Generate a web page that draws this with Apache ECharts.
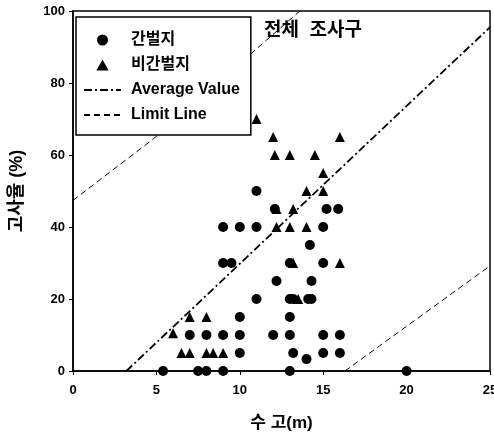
<!DOCTYPE html>
<html><head><meta charset="utf-8">
<script src="https://cdn.jsdelivr.net/npm/echarts@6/dist/echarts.min.js"></script>
<style>html,body{margin:0;padding:0;background:#fff}#c{width:494px;height:441px}</style>
</head><body><div id="c"></div>
<script>
const FONT = "'Liberation Sans','Noto Sans CJK KR',sans-serif";

// 간벌지 (circles)
const thinnedX = [5.4, 7.5, 8, 9, 13, 20, 14, 10, 13.2, 15, 16, 7, 8, 9, 10, 12, 13, 15, 16, 10, 13, 11, 13, 13.2, 14.1, 14.3, 12.2, 14.3, 9, 9.5, 13, 15, 14.2, 9, 10, 11, 15, 12.1, 15.2, 15.9, 11];
const thinnedY = [0, 0, 0, 0, 0, 0, 3.3, 5, 5, 5, 5, 10, 10, 10, 10, 10, 10, 10, 10, 15, 15, 20, 20, 20, 20, 20, 25, 25, 30, 30, 30, 30, 35, 40, 40, 40, 40, 45, 45, 45, 50];

// 비간벌지 (triangles)
const unthinnedX = [6.5, 7, 8, 8.4, 9, 6, 7, 8, 13.5, 13.2, 16, 12.2, 13, 14, 12.2, 13.2, 14, 15, 15, 12.1, 13, 14.5, 12, 16, 11];
const unthinnedY = [5, 5, 5, 5, 5, 10.5, 15, 15, 20, 30, 30, 40, 40, 40, 45, 45, 50, 50, 55, 60, 60, 60, 65, 65, 70];

// Lines
const averageX = [3.2, 25];
const averageY = [0, 95.5];
const upperLimitX = [0, 4.8, 13.6];
const upperLimitY = [47.4, 64.4, 100];
const lowerLimitX = [16.3, 25];
const lowerLimitY = [0, 29.2];

const xTicks = [0, 5, 10, 15, 20, 25];
const yTicks = [0, 20, 40, 60, 80, 100];

const pairs = (xs, ys) => xs.map((x, i) => [x, ys[i]]);
const TRI = 'path://M5,0 L10,9 L0,9 Z';

const chart = echarts.init(document.getElementById('c'), null, {renderer: 'canvas'});
chart.setOption({
  animation: false,
  backgroundColor: '#fff',
  textStyle: {fontFamily: FONT},
  title: {
    text: '전체  조사구',
    left: 259, top: 16,
    textStyle: {fontFamily: FONT, fontSize: 19, fontWeight: 'bold', color: '#000'}
  },
  grid: {
    left: 73, right: 4, top: 11, bottom: 70,
    containLabel: false, outerBoundsMode: 'none',
    show: true, borderColor: '#000', borderWidth: 1.5, backgroundColor: 'transparent'
  },
  legend: {
    orient: 'vertical',
    left: 76, top: 17,
    padding: [15, 11, 12, 7],
    itemWidth: 37, itemHeight: 11, itemGap: 9,
    symbolKeepAspect: true,
    backgroundColor: '#fff',
    borderColor: '#000', borderWidth: 1.5,
    selectedMode: false,
    textStyle: {fontFamily: FONT, fontSize: 16, fontWeight: 'bold', color: '#000', lineHeight: 14, padding: [0, 0, 0, 5]},
    data: [
      {name: '간벌지', icon: 'circle'},
      {name: '비간벌지', icon: TRI},
      {name: 'Average Value', itemStyle: {opacity: 0, borderWidth: 0}},
      {name: 'Limit Line', itemStyle: {opacity: 0, borderWidth: 0}}
    ]
  },
  xAxis: {
    type: 'value', min: xTicks[0], max: xTicks[xTicks.length - 1], interval: 5,
    name: '수 고(m)', nameLocation: 'middle', nameGap: 44,
    nameTextStyle: {fontFamily: FONT, fontSize: 17, fontWeight: 'bold', color: '#000'},
    axisLine: {lineStyle: {color: '#000', width: 1.5}},
    axisTick: {show: true, length: 4, lineStyle: {color: '#000', width: 1}},
    axisLabel: {fontFamily: FONT, fontSize: 13, fontWeight: 'bold', color: '#000', margin: 13},
    splitLine: {show: false}
  },
  yAxis: {
    type: 'value', min: yTicks[0], max: yTicks[yTicks.length - 1], interval: 20,
    name: '고사율 (%)', nameLocation: 'middle', nameGap: 47, nameRotate: 90,
    nameTextStyle: {fontFamily: FONT, fontSize: 18, fontWeight: 'bold', color: '#000'},
    axisLine: {lineStyle: {color: '#000', width: 1.5}},
    axisTick: {show: true, length: 4, lineStyle: {color: '#000', width: 1}},
    axisLabel: {fontFamily: FONT, fontSize: 13, fontWeight: 'bold', color: '#000', margin: 8},
    splitLine: {show: false}
  },
  series: [
    {
      name: '간벌지', type: 'scatter', symbol: 'circle', symbolSize: 10,
      itemStyle: {color: '#000', opacity: 1},
      data: pairs(thinnedX, thinnedY), z: 3
    },
    {
      name: '비간벌지', type: 'scatter', symbol: 'triangle', symbolSize: 10,
      itemStyle: {color: '#000', opacity: 1},
      data: pairs(unthinnedX, unthinnedY), z: 3
    },
    {
      name: 'Average Value', type: 'line', symbol: 'none', showSymbol: false,
      lineStyle: {color: '#000', width: 1.8, type: [8, 3, 2, 3]},
      itemStyle: {color: '#000'},
      data: pairs(averageX, averageY), z: 2
    },
    {
      name: 'Limit Line', type: 'line', symbol: 'none', showSymbol: false,
      lineStyle: {color: '#000', width: 1, type: [6, 4]},
      itemStyle: {color: '#000'},
      data: pairs(upperLimitX, upperLimitY), z: 2
    },
    {
      name: 'Limit Line', type: 'line', symbol: 'none', showSymbol: false,
      lineStyle: {color: '#000', width: 1, type: [6, 4]},
      itemStyle: {color: '#000'},
      data: pairs(lowerLimitX, lowerLimitY), z: 2
    }
  ]
});
</script>
</body></html>
